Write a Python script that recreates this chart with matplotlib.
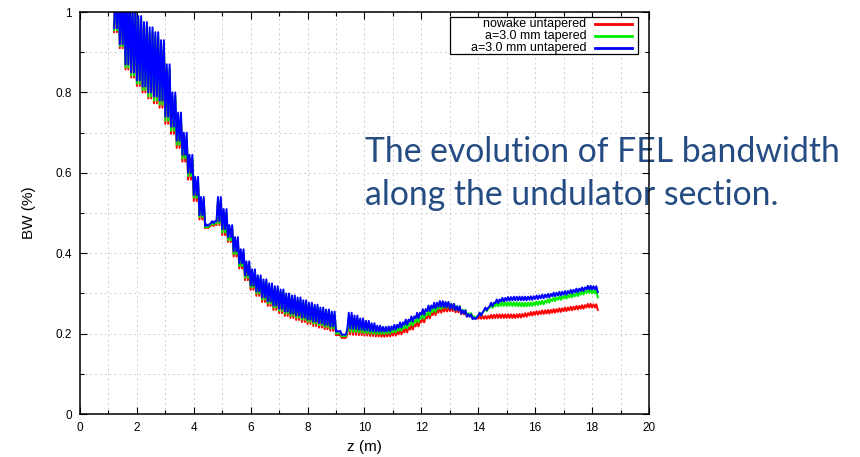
import numpy as np
import matplotlib
matplotlib.use('Agg')
from matplotlib import pyplot as plt
from matplotlib.patches import Rectangle
from matplotlib.ticker import MultipleLocator

# section starts along the undulator (m), two teeth per section
z_teeth = np.round(np.arange(1.2, 18.21, 0.2), 1)

# tooth height, shared by the three runs (BW %)
tooth_amp = [
    0.12, 0.14, 0.17, 0.16, 0.16, 0.16, 0.162, 0.16, 0.15, 0.13,
    0.085, 0.07, 0.055, 0.045, 0.045, 0.045, 0.004, 0.005, 0.06, 0.05,
    0.03, 0.035, 0.035, 0.035, 0.04, 0.04, 0.045, 0.045, 0.048, 0.048,
    0.045, 0.045, 0.045, 0.043, 0.042, 0.042, 0.039, 0.038, 0.037, 0.002,
    0.001, 0.039, 0.033, 0.028, 0.024, 0.02, 0.015, 0.012, 0.012, 0.012,
    0.013, 0.013, 0.013, 0.014, 0.014, 0.014, 0.014, 0.014, 0.013, 0.012,
    0.01, 0.008, 0.006, 0.004, 0.007, 0.007, 0.009, 0.009, 0.009, 0.009,
    0.009, 0.009, 0.009, 0.009, 0.009, 0.009, 0.009, 0.009, 0.009, 0.009,
    0.009, 0.009, 0.009, 0.009, 0.008, 0.004,
]

# base of the teeth in each section (BW %)
bw_nowake = [
    0.95, 0.91, 0.857, 0.837, 0.816, 0.80, 0.785, 0.773, 0.762, 0.722,
    0.697, 0.662, 0.628, 0.583, 0.53, 0.484, 0.462, 0.468, 0.47, 0.445,
    0.428, 0.392, 0.362, 0.333, 0.309, 0.294, 0.279, 0.269, 0.259, 0.251,
    0.244, 0.239, 0.234, 0.229, 0.224, 0.219, 0.215, 0.211, 0.207, 0.196,
    0.189, 0.198, 0.197, 0.196, 0.195, 0.194, 0.193, 0.192, 0.193, 0.195,
    0.198, 0.203, 0.21, 0.218, 0.228, 0.238, 0.246, 0.252, 0.255, 0.256,
    0.253, 0.248, 0.243, 0.238, 0.237, 0.237, 0.238, 0.239, 0.239, 0.239,
    0.239, 0.24, 0.242, 0.245, 0.247, 0.249, 0.25, 0.252, 0.254, 0.256,
    0.258, 0.26, 0.262, 0.265, 0.265, 0.259,
]
bw_tapered = [
    0.955, 0.915, 0.862, 0.842, 0.822, 0.806, 0.79, 0.78, 0.77, 0.73,
    0.705, 0.67, 0.636, 0.592, 0.538, 0.49, 0.464, 0.471, 0.474, 0.452,
    0.432, 0.398, 0.368, 0.339, 0.315, 0.30, 0.285, 0.275, 0.265, 0.257,
    0.25, 0.245, 0.24, 0.235, 0.23, 0.225, 0.221, 0.217, 0.213, 0.20,
    0.193, 0.205, 0.204, 0.203, 0.201, 0.20, 0.199, 0.199, 0.20, 0.203,
    0.207, 0.213, 0.22, 0.228, 0.237, 0.246, 0.254, 0.261, 0.264, 0.262,
    0.258, 0.251, 0.245, 0.239, 0.245, 0.256, 0.264, 0.268, 0.269, 0.269,
    0.269, 0.268, 0.268, 0.269, 0.271, 0.273, 0.277, 0.281, 0.284, 0.287,
    0.29, 0.293, 0.297, 0.301, 0.30, 0.29,
]
bw_untapered = [
    0.96, 0.92, 0.87, 0.85, 0.83, 0.815, 0.80, 0.79, 0.78, 0.74,
    0.715, 0.68, 0.645, 0.60, 0.545, 0.495, 0.468, 0.475, 0.48, 0.46,
    0.44, 0.405, 0.375, 0.345, 0.32, 0.305, 0.29, 0.28, 0.27, 0.262,
    0.255, 0.25, 0.245, 0.24, 0.235, 0.23, 0.226, 0.222, 0.218, 0.205,
    0.197, 0.213, 0.212, 0.21, 0.208, 0.206, 0.205, 0.205, 0.206, 0.21,
    0.215, 0.222, 0.23, 0.238, 0.247, 0.256, 0.263, 0.267, 0.266, 0.262,
    0.258, 0.25, 0.242, 0.236, 0.245, 0.258, 0.268, 0.276, 0.28, 0.282,
    0.283, 0.283, 0.283, 0.284, 0.286, 0.288, 0.29, 0.293, 0.295, 0.297,
    0.30, 0.303, 0.306, 0.31, 0.31, 0.303,
]

labels = ['nowake untapered', 'a=3.0 mm tapered', 'a=3.0 mm untapered']
colors = ['#ff0000', '#00ee00', '#0000ff']


def sawtooth(z, base, amp):
    """two teeth per section: up to base+amp and back to the base"""
    xs, ys = [], []
    for i in range(len(z)):
        xs.append(z[i])
        ys.append(base[i])
        if i < len(z) - 1:
            xs += [z[i] + 0.05, z[i] + 0.1, z[i] + 0.15]
            ys += [base[i] + amp[i], base[i], base[i] + amp[i]]
    return xs, ys


plt.rcParams['font.family'] = ['Liberation Sans', 'DejaVu Sans']

fig = plt.figure(figsize=(8.6, 4.57), dpi=100)
ax = fig.add_axes([0.093, 0.094, 0.6616, 0.8796])
ax.set_axisbelow(True)

for bw, lab, col in zip([bw_nowake, bw_tapered, bw_untapered], labels, colors):
    xs, ys = sawtooth(z_teeth, bw, tooth_amp)
    ax.plot(xs, ys, color=col, lw=1.4, label=lab)

ax.set_xlim(0, 20)
ax.set_ylim(0, 1)
ax.xaxis.set_major_locator(MultipleLocator(2))
ax.xaxis.set_minor_locator(MultipleLocator(1))
ax.yaxis.set_minor_locator(MultipleLocator(0.1))
ax.set_yticks(np.arange(0, 1.01, 0.2))
ax.set_yticklabels(['0', '0.2', '0.4', '0.6', '0.8', '1'])

ax.tick_params(which='both', direction='in', top=True, right=True,
               labelsize=8.5, colors='black', width=0.8)
ax.tick_params(which='major', length=5, pad=6)
ax.tick_params(which='minor', length=3)
ax.grid(which='both', color='#cfcfcf', lw=0.7, linestyle=(0, (2, 3)))
for sp in ax.spines.values():
    sp.set_linewidth(1.1)

ax.set_xlabel('z (m)', fontsize=11, labelpad=4)
ax.set_ylabel('BW (%)', fontsize=11, labelpad=14)

# key box in the gnuplot style: labels right-aligned, line samples after them
ax.add_patch(Rectangle((0.650, 0.895), 0.331, 0.093, transform=ax.transAxes,
                       facecolor='white', edgecolor='black', lw=0.9, zorder=5))
for k, (lab, col) in enumerate(zip(labels, colors)):
    y = 0.970 - k * 0.030
    ax.text(0.890, y, lab, transform=ax.transAxes, ha='right', va='center',
            fontsize=9, zorder=6)
    ax.plot([0.905, 0.970], [y, y], transform=ax.transAxes, color=col,
            lw=2, zorder=6)

# slide caption: above the grid, below the curves and the frame
note_color = '#244c82'
for y_px, txt in [(162, 'The evolution of FEL bandwidth'),
                  (205, 'along the undulator section.')]:
    ax.text(365 / 860, 1 - y_px / 457, txt, transform=fig.transFigure,
            fontsize=24.3, color=note_color, family='Lato', va='baseline',
            zorder=1, clip_on=False)

fig.savefig('out.png', dpi=100)
